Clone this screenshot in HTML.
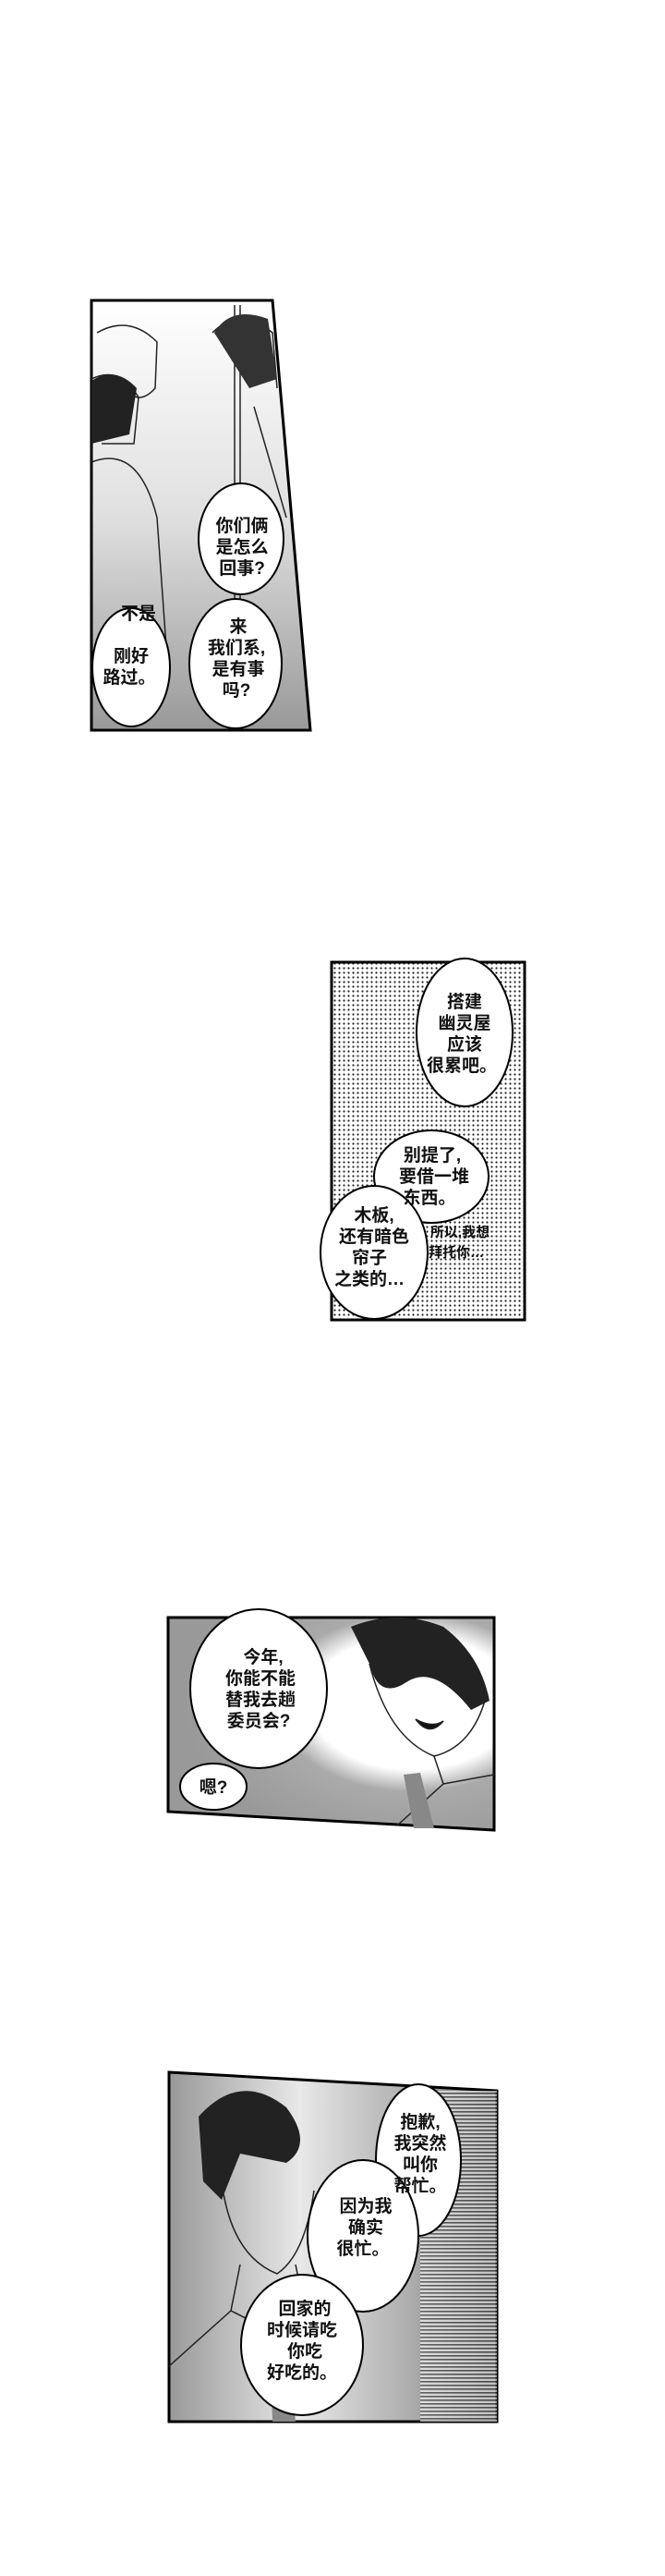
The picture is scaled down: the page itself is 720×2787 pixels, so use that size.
<!DOCTYPE html>
<html><head><meta charset="utf-8"><style>
html,body{margin:0;padding:0;background:#fff}
svg{display:block}
text{font-family:"Liberation Sans","Noto Sans CJK SC",sans-serif;font-weight:bold;fill:#111;text-anchor:middle}
</style></head><body>
<svg width="720" height="2787" viewBox="0 0 720 2787" xmlns="http://www.w3.org/2000/svg">
<defs>
<pattern id="dots" width="5" height="5" patternUnits="userSpaceOnUse"><rect width="5" height="5" fill="#fff"/><circle cx="2.5" cy="2.5" r="1.1" fill="#222"/></pattern>
<pattern id="lines" width="4" height="4" patternUnits="userSpaceOnUse"><rect width="4" height="4" fill="#fff"/><rect width="4" height="1.6" fill="#333"/></pattern>
<linearGradient id="g1" x1="0" y1="0" x2="0" y2="1"><stop offset="0" stop-color="#fff"/><stop offset="0.5" stop-color="#e0e0e0"/><stop offset="1" stop-color="#999"/></linearGradient>
<radialGradient id="g3" cx="0.75" cy="0.4" r="0.7"><stop offset="0.45" stop-color="#fff"/><stop offset="0.6" stop-color="#aaa"/><stop offset="1" stop-color="#999"/></radialGradient>
<linearGradient id="g4" x1="0" y1="0" x2="1" y2="0"><stop offset="0" stop-color="#999"/><stop offset="0.4" stop-color="#e8e8e8"/><stop offset="0.75" stop-color="#aaa"/><stop offset="1" stop-color="#666"/></linearGradient>
</defs>

<!-- Panel 1 -->
<polygon points="99,325 295,325 336,790 99,790" fill="url(#g1)" stroke="#000" stroke-width="3"/>
<g stroke="#222" stroke-width="1.5" fill="none">
<path d="M105,360 Q140,340 170,370 L168,420 Q150,440 135,420"/>
<path d="M99,410 Q130,395 150,430 L145,480 L110,480"/>
<path d="M99,500 Q150,480 170,560 L180,700"/>
<path d="M230,360 Q260,330 295,360 L300,420"/>
<line x1="254" y1="330" x2="254" y2="790"/><line x1="260" y1="330" x2="260" y2="790"/>
<path d="M275,440 L310,560"/>
</g>
<path d="M232,360 Q250,330 290,345 L300,410 L270,420 Z" fill="#333"/>
<path d="M99,412 Q125,395 148,420 L140,470 L99,480 Z" fill="#222"/>
<ellipse cx="261" cy="583" rx="46" ry="60" fill="#fff" stroke="#000" stroke-width="2"/>
<ellipse cx="255" cy="718" rx="50" ry="70" fill="#fff" stroke="#000" stroke-width="2"/>
<ellipse cx="142" cy="722" rx="42" ry="64" fill="#fff" stroke="#000" stroke-width="2"/>
<g font-size="19">
<text x="262" y="575">你们俩</text><text x="262" y="598">是怎么</text><text x="262" y="621">回事?</text>
<text x="258" y="684">来</text><text x="256" y="707">我们系,</text><text x="258" y="730">是有事</text><text x="256" y="753">吗?</text>
<text x="142" y="716">刚好</text><text x="140" y="739">路过。</text>
<text x="150" y="670">不是</text>
</g>

<!-- Panel 2 -->
<rect x="359" y="1041" width="209" height="387" fill="url(#dots)" stroke="#000" stroke-width="3"/>
<ellipse cx="503" cy="1117" rx="52" ry="80" fill="#fff" stroke="#000" stroke-width="2"/>
<ellipse cx="467" cy="1273" rx="62" ry="50" fill="#fff" stroke="#000" stroke-width="2"/>
<ellipse cx="405" cy="1355" rx="58" ry="72" fill="#fff" stroke="#000" stroke-width="2"/>
<g font-size="19">
<text x="503" y="1090">搭建</text><text x="503" y="1113">幽灵屋</text><text x="503" y="1136">应该</text><text x="500" y="1159">很累吧。</text>
<text x="468" y="1256">别提了,</text><text x="470" y="1279">要借一堆</text><text x="465" y="1302">东西。</text>
<text x="405" y="1321">木板,</text><text x="405" y="1344">还有暗色</text><text x="400" y="1367">帘子</text><text x="400" y="1390">之类的…</text>
</g>
<g font-size="15"><text x="498" y="1338">所以,我想</text><text x="494" y="1360">拜托你…</text></g>

<!-- Panel 3 -->
<polygon points="182,1750 535,1750 535,1980 182,1960" fill="url(#g3)" stroke="#000" stroke-width="3"/>
<path d="M380,1760 Q430,1740 480,1760 Q520,1790 530,1840 L510,1850 Q470,1800 440,1820 Q410,1840 400,1800 Z" fill="#222"/>
<g stroke="#222" stroke-width="1.5" fill="none">
<path d="M400,1800 Q420,1880 470,1900 Q510,1890 525,1840"/>
<path d="M450,1860 Q465,1880 480,1862 Q468,1870 450,1860 Z" fill="#111"/>
<path d="M470,1900 L480,1930 L430,1975"/><path d="M480,1930 L535,1920"/>
</g>
<polygon points="437,1920 455,1918 470,1978 448,1978" fill="#888"/>
<ellipse cx="280" cy="1827" rx="74" ry="86" fill="#fff" stroke="#000" stroke-width="2"/>
<ellipse cx="231" cy="1933" rx="36" ry="25" fill="#fff" stroke="#000" stroke-width="2"/>
<g font-size="19">
<text x="285" y="1799">今年,</text><text x="282" y="1822">你能不能</text><text x="282" y="1845">替我去趟</text><text x="280" y="1868">委员会?</text>
<text x="231" y="1940">嗯?</text>
</g>

<!-- Panel 4 -->
<polygon points="183,2242 538,2262 538,2620 183,2620" fill="url(#g4)" stroke="#000" stroke-width="3"/>
<rect x="455" y="2262" width="83" height="358" fill="url(#lines)" opacity="0.6"/>
<path d="M215,2290 Q260,2240 310,2280 Q340,2320 310,2340 L260,2330 L240,2380 L220,2360 Z" fill="#222"/>
<g stroke="#222" stroke-width="1.5" fill="none">
<path d="M240,2360 Q250,2440 300,2460 Q330,2440 340,2370"/>
<path d="M260,2450 L250,2500 L183,2560"/><path d="M320,2450 L330,2500 L390,2520"/>
<path d="M250,2500 L290,2520 L330,2500"/>
</g>
<polygon points="290,2480 305,2480 320,2620 295,2620" fill="#888"/>
<ellipse cx="453" cy="2337" rx="46" ry="82" fill="#fff" stroke="#000" stroke-width="2"/>
<ellipse cx="393" cy="2419" rx="60" ry="82" fill="#fff" stroke="#000" stroke-width="2"/>
<ellipse cx="327" cy="2537" rx="66" ry="76" fill="#fff" stroke="#000" stroke-width="2"/>
<g font-size="19">
<text x="455" y="2302">抱歉,</text><text x="455" y="2325">我突然</text><text x="455" y="2348">叫你</text><text x="455" y="2371">帮忙。</text>
<text x="396" y="2393">因为我</text><text x="396" y="2416">确实</text><text x="393" y="2439">很忙。</text>
<text x="330" y="2504">回家的</text><text x="327" y="2527">时候请吃</text><text x="330" y="2550">你吃</text><text x="327" y="2573">好吃的。</text>
</g>
</svg>
</body></html>
